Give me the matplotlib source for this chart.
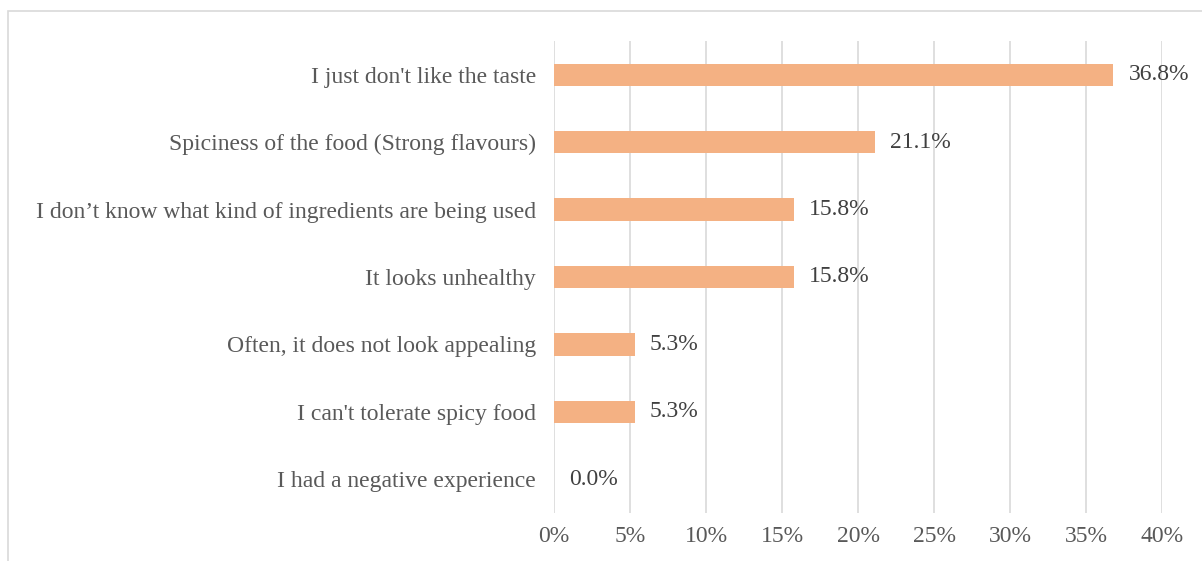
import matplotlib
matplotlib.use("Agg")
import matplotlib.pyplot as plt
from matplotlib.patches import Rectangle
from matplotlib.ticker import FuncFormatter

categories = ["I just don't like the taste",
              "Spiciness of the food (Strong flavours)",
              "I don\u2019t know what kind of ingredients are being used",
              "It looks unhealthy",
              "Often, it does not look appealing",
              "I can't tolerate spicy food",
              "I had a negative experience"]
values = [36.8, 21.1, 15.8, 15.8, 5.3, 5.3, 0.0]

plt.rcParams['font.family'] = ['Liberation Serif', 'DejaVu Serif']

fig = plt.figure(figsize=(12.02, 5.61), dpi=100)
ax = fig.add_axes([554/1202, 1 - 513/561, (1162 - 554)/1202, (513 - 41)/561])

# chart frame, cut off at right and bottom like the screenshot
fig.patches.append(Rectangle((8/1202, -0.05), 1.1, 1 - 11/561 + 0.05, transform=fig.transFigure,
                             fill=False, edgecolor='#d9d9d9', linewidth=1.2))

pos = list(range(len(categories)))[::-1]
ax.barh(pos, values, height=0.33, color='#f4b183', zorder=2)
for p, v in zip(pos, values):
    ax.text(v + 1.0, p, f"{v:.1f}%", va='center', ha='left', fontsize=17, color='#404040')

ax.set_xlim(0, 40)
ax.set_ylim(-0.5, len(categories) - 0.5)
ax.set_xticks(range(0, 41, 5))
ax.xaxis.set_major_formatter(FuncFormatter(lambda x, _: f"{x:.0f}%"))
ax.set_yticks(pos)
ax.set_yticklabels(categories)
ax.tick_params(axis='both', length=0, labelsize=17, labelcolor='#595959')
ax.tick_params(axis='y', pad=13)
ax.tick_params(axis='x', pad=9)
ax.grid(axis='x', color='#d9d9d9', linewidth=1.2, zorder=0)
for s in ax.spines.values():
    s.set_visible(False)

fig.savefig("out.png", dpi=100)
